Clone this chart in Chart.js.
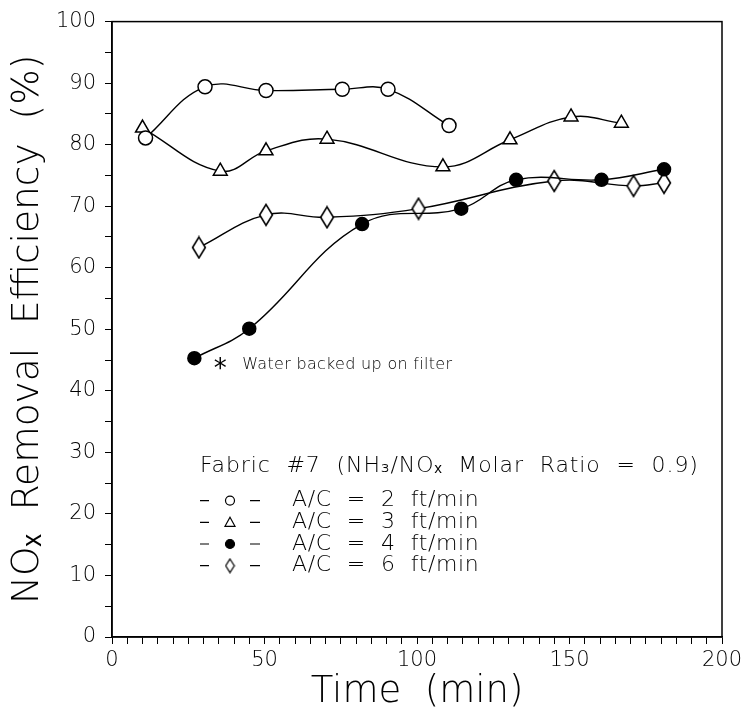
<!DOCTYPE html>
<html>
<head>
<meta charset="utf-8">
<script src="https://cdn.jsdelivr.net/npm/chart.js@4.4.1/dist/chart.umd.min.js"></script>
<style>
  html, body { margin: 0; padding: 0; background: #fff; }
  #wrap { width: 747px; height: 717px; }
</style>
</head>
<body>
<div id="wrap"><canvas id="nox" width="747" height="717"></canvas></div>
<script>
"use strict";
// NOx removal efficiency (%) vs. time (min), fabric #7, NH3/NOx = 0.9
var timeAc2 = [11, 30.5, 50.5, 75.5, 90.5, 110.5];
var effAc2 = [81.1, 89.4, 88.8, 89.0, 89.0, 83.1];

var timeAc3 = [10, 35.5, 50.5, 70.5, 108.5, 130.5, 150.5, 167];
var effAc3 = [82.7, 75.7, 79.0, 80.9, 76.4, 80.8, 84.5, 83.5];

var timeAc4 = [27, 45, 82, 114.5, 132.5, 160.5, 181];
var effAc4 = [45.3, 50.1, 67.1, 69.6, 74.3, 74.3, 76.0];

var timeAc6 = [28.5, 50.5, 70.5, 100.5, 145, 171, 181];
var effAc6 = [63.3, 68.6, 68.2, 69.6, 74.1, 73.3, 73.8];

var seriesLabels = ["A/C  =  2  ft/min", "A/C  =  3  ft/min", "A/C  =  4  ft/min", "A/C  =  6  ft/min"];
var xTicksLabelled = [0, 50, 100, 150, 200];
var yTicksLabelled = [0, 10, 20, 30, 40, 50, 60, 70, 80, 90, 100];

var noteTime = 35.5, noteEff = 44.2;
var noteText = "Water backed up on filter";
var legendTitle = "Fabric  #7  (NH\u2083/NO\u2093  Molar  Ratio  =  0.9)";

var FONT = "'DejaVu Sans', sans-serif";
var INK = "#000";

function pts(xs, ys) {
  return xs.map(function (x, i) { return { x: x, y: ys[i] }; });
}

// tall open diamond, w x h, drawn onto its own canvas
function diamond(w, h, lw) {
  var c = document.createElement("canvas");
  c.width = w; c.height = h;
  var g = c.getContext("2d");
  var m = lw;
  g.beginPath();
  g.moveTo(w / 2, m); g.lineTo(w - m, h / 2); g.lineTo(w / 2, h - m); g.lineTo(m, h / 2); g.closePath();
  g.fillStyle = "#fff"; g.fill();
  g.lineWidth = lw; g.strokeStyle = INK; g.stroke();
  return c;
}
var diamondImg = diamond(16, 24, 1.6);
var diamondKey = diamond(11, 16, 1.2);

function series(label, xs, ys, style, fill, r) {
  return {
    label: label,
    data: pts(xs, ys),
    showLine: true,
    borderColor: INK,
    borderWidth: 1.4,
    tension: 0.4,
    pointStyle: style,
    pointRadius: r,
    pointBorderWidth: 1.5,
    pointBorderColor: INK,
    pointBackgroundColor: fill
  };
}

var datasets = [
  series(seriesLabels[0], timeAc2, effAc2, "circle", "#fff", 7),
  series(seriesLabels[1], timeAc3, effAc3, "triangle", "#fff", 8),
  series(seriesLabels[2], timeAc4, effAc4, "circle", INK, 6.5),
  series(seriesLabels[3], timeAc6, effAc6, diamondImg, "#fff", 8)
];

var extras = {
  id: "extras",
  afterDatasetsDraw: function (chart) {
    var ctx = chart.ctx, a = chart.chartArea, sx = chart.scales.x, sy = chart.scales.y;
    ctx.save();
    // closed frame
    ctx.strokeStyle = INK; ctx.lineWidth = 1.5;
    ctx.strokeRect(a.left, a.top, a.right - a.left, a.bottom - a.top);

    // note next to the first 4 ft/min point
    var nx = sx.getPixelForValue(noteTime), ny = sy.getPixelForValue(noteEff);
    ctx.fillStyle = INK;
    ctx.textBaseline = "middle";
    ctx.textAlign = "center";
    ctx.font = "26px " + FONT;
    ctx.fillText("*", nx, ny + 5);
    ctx.textAlign = "left";
    ctx.font = "300 16px " + FONT;
    ctx.letterSpacing = "0.3px";
    ctx.fillText(noteText, nx + 22, ny);

    // legend
    var lx = a.left + 88, ty = a.top + 445;
    ctx.font = "300 22px " + FONT;
    ctx.letterSpacing = "0.9px";
    ctx.fillText(legendTitle, lx, ty);
    ctx.letterSpacing = "0.6px";
    chart.data.datasets.forEach(function (ds, i) {
      var y = ty + 34 + i * 21.7, mx = lx + 30;
      ctx.strokeStyle = INK;
      ctx.lineWidth = 1.2;
      ctx.beginPath();
      ctx.moveTo(lx, y); ctx.lineTo(lx + 9, y);
      ctx.moveTo(lx + 50, y); ctx.lineTo(lx + 60, y);
      ctx.stroke();
      if (ds.pointStyle === diamondImg) {
        ctx.drawImage(diamondKey, mx - 5.5, y - 8);
      } else {
        ctx.fillStyle = ds.pointBackgroundColor;
        ctx.beginPath();
        if (ds.pointStyle === "circle") {
          ctx.arc(mx, y, 4.5, 0, Math.PI * 2);
        } else {
          ctx.moveTo(mx, y - 5); ctx.lineTo(mx + 5, y + 4); ctx.lineTo(mx - 5, y + 4); ctx.closePath();
        }
        ctx.fill(); ctx.stroke();
      }
      ctx.fillStyle = INK;
      ctx.fillText(ds.label, lx + 92, y);
    });
    ctx.restore();
  }
};

new Chart(document.getElementById("nox"), {
  type: "scatter",
  data: { datasets: datasets },
  options: {
    responsive: false,
    animation: false,
    events: [],
    layout: { padding: { top: 20, right: 25, left: 0, bottom: 0 } },
    plugins: { legend: { display: false }, tooltip: { enabled: false } },
    scales: {
      x: {
        type: "linear", min: 0, max: 200,
        afterFit: function (s) { s.height = 80; },
        afterBuildTicks: function (s) {
          s.ticks = [];
          for (var v = 0; v <= 200; v += 5) s.ticks.push({ value: v });
        },
        ticks: {
          autoSkip: false, maxRotation: 0, padding: 4, color: INK,
          font: { family: FONT, size: 21, weight: 300 },
          callback: function (v) { return xTicksLabelled.indexOf(v) >= 0 ? String(v) : ""; }
        },
        grid: { drawOnChartArea: false, tickLength: 7, color: INK, tickWidth: 1 },
        border: { color: INK, width: 1.5 },
        title: {
          display: true, text: "Time  (min)", color: INK,
          font: { family: FONT, size: 37, weight: 300 }, padding: { top: 0, bottom: 2 }
        }
      },
      y: {
        type: "linear", min: 0, max: 100,
        afterFit: function (s) { s.width = 112; },
        afterBuildTicks: function (s) {
          s.ticks = [];
          for (var v = 0; v <= 100; v += 5) s.ticks.push({ value: v });
        },
        ticks: {
          autoSkip: false, padding: 9, color: INK,
          font: { family: FONT, size: 21, weight: 300 },
          callback: function (v) { return yTicksLabelled.indexOf(v) >= 0 ? String(v) : ""; }
        },
        grid: { drawOnChartArea: false, tickLength: 7, color: INK, tickWidth: 1 },
        border: { color: INK, width: 1.5 },
        title: {
          display: true, text: "NO\u2093  Removal  Efficiency  (%)", color: INK,
          font: { family: FONT, size: 37.5, weight: 300 }, padding: { top: 6, bottom: 0 }
        }
      }
    }
  },
  plugins: [extras]
});
</script>
</body>
</html>
